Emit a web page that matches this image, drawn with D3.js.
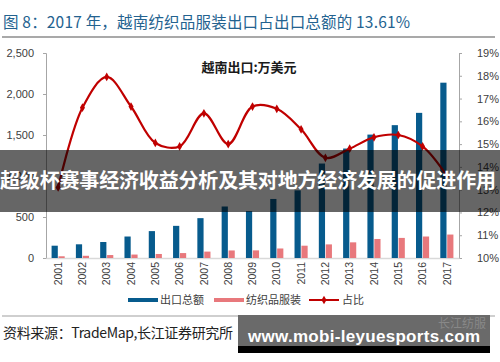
<!DOCTYPE html>
<html>
<head>
<meta charset="utf-8">
<script src="https://cdn.jsdelivr.net/npm/d3@7.9.0/dist/d3.min.js"></script>
<style>
  body { margin: 0; background: #fff; }
  svg { display: block; }
  text { font-family: "Liberation Sans", Arial, sans-serif; }
  .cjk { font-family: "Noto Sans CJK SC", sans-serif; }
</style>
</head>
<body>
<svg id="chart" width="500" height="362"></svg>
<script>
const years = ['2001','2002','2003','2004','2005','2006','2007','2008','2009',
               '2010','2011','2012','2013','2014','2015','2016','2017'];
const exportTotal = [150, 167, 195, 262, 328, 392, 486, 628, 572, 720, 825, 1152, 1335, 1505, 1620, 1770, 2138];
const textileExport = [21, 27, 36, 42, 49, 60, 78, 92, 93, 116, 150, 166, 191, 232, 245, 262, 286];
const shareRatio = [13.1, 16.6, 17.95, 16.65, 15.05, 14.9, 16.35, 15.0, 16.65, 16.55, 15.65, 14.4, 14.8, 15.3, 15.4, 14.9, 13.61];
const leftTicks = [0, 500, 1000, 1500, 2000, 2500];
const rightTicks = [10, 11, 12, 13, 14, 15, 16, 17, 18, 19];
const seriesNames = ['出口总额', '纺织品服装', '占比'];

const svg = d3.select('#chart');

// header
svg.append('text').attr('class', 'cjk')
  .attr('x', 3).attr('y', 28)
  .attr('font-size', 15.5).attr('fill', '#23628f')
  .attr('textLength', 407)
  .text('图 8：2017 年，越南纺织品服装出口占出口总额的 13.61%');
svg.append('line').attr('x1', 2).attr('x2', 495).attr('y1', 37).attr('y2', 37)
  .attr('stroke', '#555').attr('stroke-width', 1.2);

// scales
const x = d3.scaleBand().domain(years).range([46, 459]).paddingInner(0.46).paddingOuter(0.23);
const x1 = d3.scaleBand().domain(['total', 'textile']).range([0, x.bandwidth()]).paddingInner(0.1);
const yLeft = d3.scaleLinear().domain([0, 2500]).range([258, 53]);
const yRight = d3.scaleLinear().domain([10, 19]).range([258, 53]);

// axes
const gl = svg.append('g').attr('transform', 'translate(46,0)')
  .call(d3.axisLeft(yLeft).tickValues(leftTicks).tickFormat(d3.format(',')).tickSize(3).tickPadding(9));
const gr = svg.append('g').attr('transform', 'translate(459,0)')
  .call(d3.axisRight(yRight).tickValues(rightTicks).tickFormat(d => d + '%').tickSize(3).tickPadding(15));
[gl, gr].forEach(g => {
  g.select('.domain').attr('stroke', '#a6a6a6');
  g.selectAll('.tick line').attr('stroke', '#a6a6a6');
  g.selectAll('.tick text').attr('fill', '#404040').attr('font-size', 11)
    .attr('font-family', '"Liberation Sans", Arial, sans-serif');
});

const gx = svg.append('g').attr('transform', 'translate(0,258)')
  .call(d3.axisBottom(x).tickSize(0).tickPadding(0));
gx.select('.domain').attr('stroke', '#d9d9d9').attr('stroke-width', 1.5);
gx.selectAll('.tick text')
  .attr('transform', 'rotate(-90)')
  .attr('text-anchor', 'end').attr('x', -4).attr('y', 0).attr('dy', '0.35em')
  .attr('fill', '#404040').attr('font-size', 10.5)
  .attr('font-family', '"Liberation Sans", Arial, sans-serif');

// bars
const groups = svg.append('g').selectAll('g').data(years).join('g')
  .attr('transform', d => `translate(${x(d)},0)`);
groups.append('rect')
  .attr('x', x1('total')).attr('width', x1.bandwidth())
  .attr('y', (d, i) => yLeft(exportTotal[i]))
  .attr('height', (d, i) => 258 - yLeft(exportTotal[i]))
  .attr('fill', '#075b8d');
groups.append('rect')
  .attr('x', x1('textile')).attr('width', x1.bandwidth())
  .attr('y', (d, i) => yLeft(textileExport[i]))
  .attr('height', (d, i) => 258 - yLeft(textileExport[i]))
  .attr('fill', '#e8787c');

// ratio line
const cx = d => x(d) + x.bandwidth() / 2;
const line = d3.line().x((d, i) => cx(years[i])).y(d => yRight(d)).curve(d3.curveCatmullRom.alpha(0.5));
svg.append('path').datum(shareRatio).attr('d', line)
  .attr('fill', 'none').attr('stroke', '#c00000').attr('stroke-width', 2.2);
svg.append('g').selectAll('path').data(shareRatio).join('path')
  .attr('d', d3.symbol(d3.symbolDiamond, 22))
  .attr('transform', (d, i) => `translate(${cx(years[i])},${yRight(d)})`)
  .attr('fill', '#c00000');

// chart label
svg.append('text').attr('class', 'cjk')
  .attr('x', 249).attr('y', 72).attr('text-anchor', 'middle')
  .attr('font-size', 13).attr('font-weight', 'bold').attr('fill', '#1a1a1a')
  .text('越南出口:万美元');

// legend
const lg = svg.append('g').attr('transform', 'translate(0,300)');
lg.append('rect').attr('x', 128).attr('y', -2).attr('width', 30).attr('height', 4).attr('fill', '#075b8d');
lg.append('rect').attr('x', 214).attr('y', -2).attr('width', 30).attr('height', 4).attr('fill', '#e8787c');
lg.append('line').attr('x1', 309).attr('x2', 339).attr('y1', 0).attr('y2', 0)
  .attr('stroke', '#c00000').attr('stroke-width', 2);
lg.append('path').attr('d', d3.symbol(d3.symbolDiamond, 22)).attr('transform', 'translate(324,0)').attr('fill', '#c00000');
[[160, seriesNames[0]], [246, seriesNames[1]], [342, seriesNames[2]]].forEach(([lx, t]) => {
  lg.append('text').attr('class', 'cjk').attr('x', lx).attr('y', 0).attr('dy', '0.36em')
    .attr('font-size', 11).attr('fill', '#404040').text(t);
});

// footer
svg.append('line').attr('x1', 2).attr('x2', 495).attr('y1', 316).attr('y2', 316)
  .attr('stroke', '#a0a0a0').attr('stroke-width', 1.2);
svg.append('text').attr('class', 'cjk')
  .attr('x', 3).attr('y', 338).attr('font-size', 14).attr('fill', '#222')
  .attr('textLength', 230)
  .text('资料来源：TradeMap,长江证券研究所');

// overlay banner
svg.append('rect').attr('x', 0).attr('y', 150).attr('width', 500).attr('height', 62)
  .attr('fill', 'rgba(0,0,0,0.6)');
svg.append('text').attr('class', 'cjk')
  .attr('x', 0).attr('y', 188).attr('font-size', 20).attr('font-weight', 'bold')
  .attr('fill', '#fff').attr('textLength', 496)
  .text('超级杯赛事经济收益分析及其对地方经济发展的促进作用');

// watermark box
svg.append('rect').attr('x', 238).attr('y', 315).attr('width', 252).attr('height', 38).attr('fill', '#6a6a6a');
svg.append('rect').attr('x', 238).attr('y', 346).attr('width', 252).attr('height', 7).attr('fill', '#000');
svg.append('text').attr('class', 'cjk')
  .attr('x', 438).attr('y', 328).attr('font-size', 12).attr('fill', '#888')
  .text('长江纺服');
svg.append('text')
  .attr('x', 248).attr('y', 342).attr('font-size', 17).attr('font-weight', 'bold')
  .attr('font-family', '"DejaVu Sans", sans-serif')
  .attr('fill', '#fff').attr('textLength', 232)
  .text('www.mobi-leyuesports.com');
</script>
</body>
</html>
